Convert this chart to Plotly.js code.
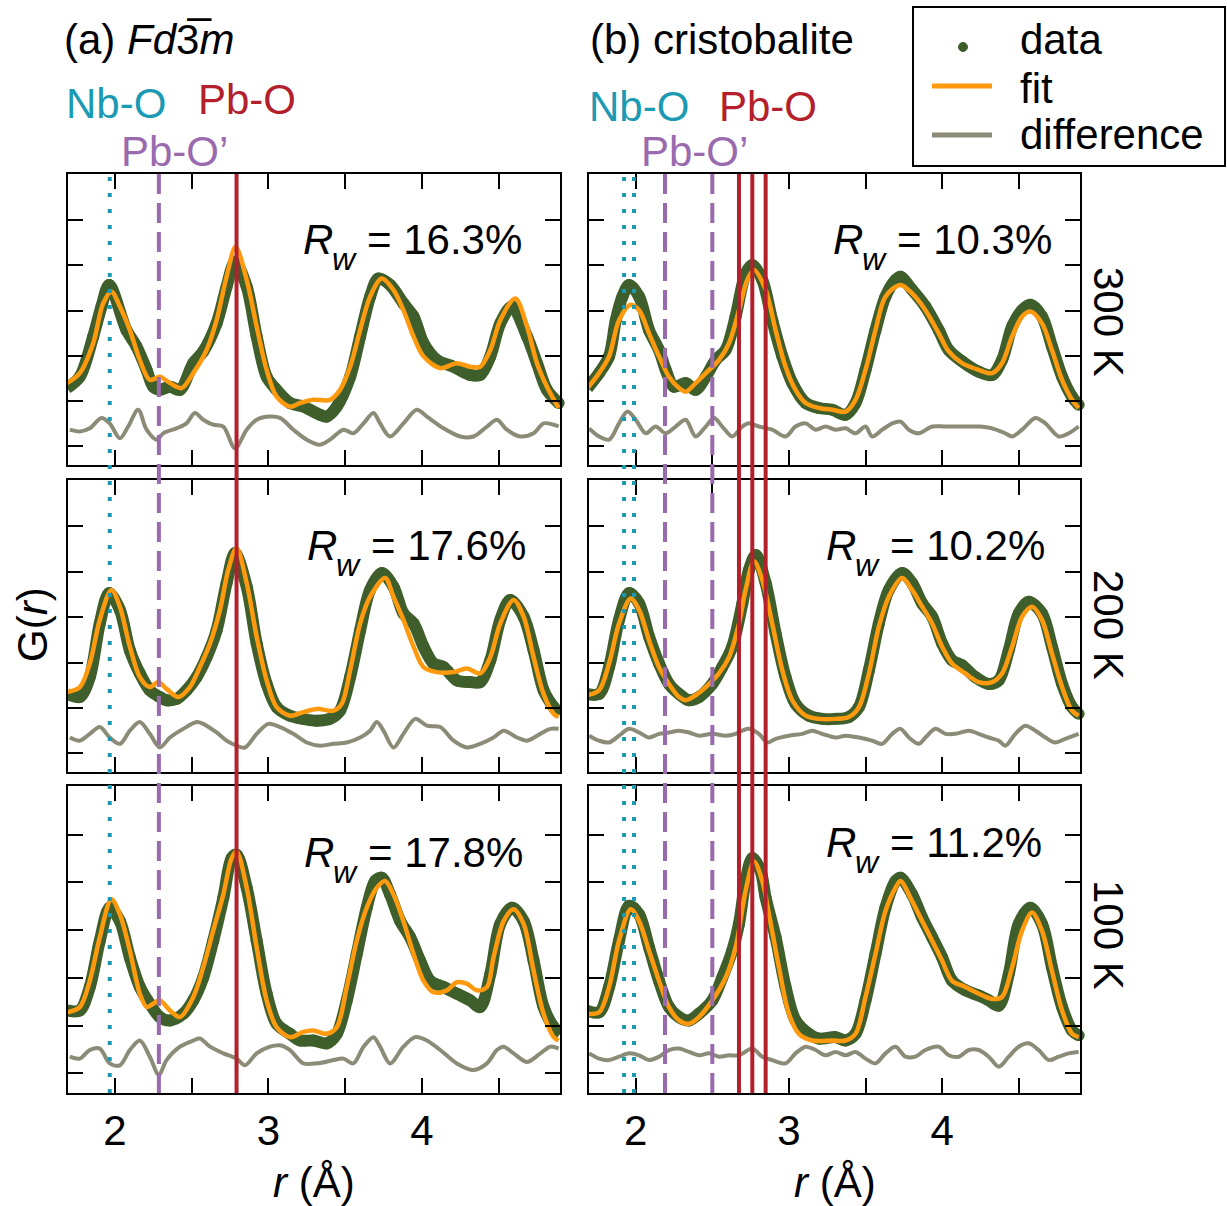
<!DOCTYPE html>
<html>
<head>
<meta charset="utf-8">
<script src="https://cdn.plot.ly/plotly-3.0.1.min.js"></script>
<style>html,body{margin:0;padding:0;background:#fff;}</style>
</head>
<body>
<div id="chart" style="width:1227px;height:1206px;"></div>
<script>
// ---------- PDF fits of Pb-Nb-O pyrochlore: (a) Fd-3m model, (b) cristobalite model ----------

// (a) Fd-3m, 300 K
const a300_data_r = [1.689,1.772,1.859,1.913,1.963,2.076,2.141,2.207,2.250,2.293,2.359,2.424,2.511,2.576,2.663,2.728,2.783,2.859,2.924,2.989,3.054,3.141,3.228,3.337,3.380,3.446,3.533,3.598,3.663,3.717,3.793,3.880,3.946,4.011,4.098,4.207,4.315,4.380,4.446,4.511,4.587,4.685,4.750,4.815,4.891];
const a300_data_G = [1.29,1.54,2.43,3.09,3.57,2.57,2.21,1.69,1.32,1.25,1.32,1.25,1.84,2.10,2.72,3.53,4.08,3.53,2.43,1.54,1.25,0.96,0.88,0.70,0.66,0.88,1.54,2.43,3.31,3.71,3.57,3.16,2.87,2.28,1.91,1.76,1.58,1.58,1.99,2.72,3.09,2.43,1.84,1.25,0.96];
const a300_fit_r = [1.689,1.772,1.859,1.924,1.978,2.033,2.098,2.163,2.228,2.293,2.359,2.435,2.511,2.598,2.663,2.728,2.787,2.859,2.924,2.989,3.054,3.141,3.207,3.293,3.402,3.467,3.533,3.598,3.663,3.739,3.815,3.880,3.946,4.011,4.120,4.228,4.315,4.380,4.446,4.511,4.609,4.685,4.750,4.815,4.891];
const a300_fit_G = [1.40,1.62,2.28,3.16,3.42,3.09,2.57,1.91,1.47,1.54,1.40,1.29,1.62,2.13,2.79,3.75,4.41,3.68,2.65,1.69,1.10,0.88,0.96,1.03,1.03,1.25,1.76,2.57,3.31,3.71,3.46,3.01,2.43,1.99,1.73,1.84,1.76,1.76,2.13,2.79,3.27,2.65,1.84,1.32,0.85];
const a300_diff_r = [1.707,1.772,1.837,1.913,1.967,2.033,2.087,2.152,2.207,2.272,2.315,2.402,2.467,2.522,2.576,2.641,2.707,2.783,2.859,2.924,3.011,3.076,3.163,3.250,3.337,3.402,3.489,3.554,3.620,3.685,3.728,3.793,3.880,3.967,4.033,4.141,4.250,4.337,4.424,4.489,4.554,4.641,4.728,4.793,4.859,4.891];
const a300_diff_G = [0.37,0.33,0.40,0.63,0.51,0.18,0.44,0.81,0.37,0.15,0.29,0.40,0.51,0.74,0.59,0.48,0.44,-0.04,0.37,0.59,0.66,0.63,0.37,0.15,0.04,0.15,0.37,0.29,0.51,0.74,0.51,0.22,0.51,0.81,0.66,0.40,0.22,0.22,0.44,0.59,0.37,0.22,0.29,0.51,0.48,0.44];

// (b) cristobalite, 300 K
const b300_data_r = [1.685,1.761,1.826,1.870,1.913,1.957,2.022,2.087,2.152,2.196,2.250,2.326,2.391,2.457,2.522,2.587,2.652,2.717,2.761,2.826,2.891,2.957,3.022,3.109,3.196,3.283,3.370,3.435,3.500,3.565,3.630,3.696,3.728,3.804,3.891,3.978,4.043,4.130,4.239,4.326,4.391,4.457,4.522,4.576,4.652,4.717,4.783,4.848,4.891];
const b300_data_G = [1.29,1.62,1.99,2.79,3.31,3.57,3.31,2.57,2.13,1.69,1.32,1.40,1.25,1.54,1.91,2.13,2.87,3.82,4.01,3.68,2.79,1.99,1.40,0.96,0.85,0.81,0.70,0.96,1.69,2.57,3.31,3.68,3.75,3.46,3.09,2.57,2.13,1.88,1.65,1.58,1.91,2.65,3.01,3.13,2.87,2.21,1.54,1.10,0.92];
const b300_fit_r = [1.685,1.761,1.826,1.891,1.967,2.022,2.087,2.152,2.217,2.283,2.326,2.391,2.457,2.543,2.609,2.674,2.728,2.772,2.848,2.913,2.978,3.043,3.109,3.196,3.283,3.370,3.435,3.500,3.565,3.630,3.728,3.804,3.891,3.978,4.043,4.130,4.239,4.326,4.391,4.457,4.522,4.576,4.652,4.717,4.783,4.848,4.891];
const b300_fit_G = [1.29,1.62,1.99,2.79,3.13,3.01,2.50,1.99,1.54,1.29,1.21,1.40,1.62,1.91,2.28,3.01,3.68,3.90,3.46,2.57,1.76,1.25,0.96,0.85,0.81,0.77,1.03,1.69,2.57,3.31,3.57,3.38,3.01,2.50,2.10,1.84,1.69,1.62,1.84,2.43,2.87,2.98,2.72,2.13,1.47,1.03,0.85];
const b300_diff_r = [1.696,1.761,1.826,1.891,1.946,2.000,2.065,2.130,2.196,2.261,2.326,2.391,2.457,2.511,2.565,2.630,2.696,2.739,2.804,2.891,2.978,3.043,3.109,3.174,3.239,3.304,3.370,3.435,3.500,3.543,3.609,3.674,3.728,3.783,3.848,3.935,4.022,4.130,4.239,4.326,4.413,4.457,4.522,4.609,4.674,4.761,4.826,4.891];
const b300_diff_G = [0.40,0.22,0.15,0.51,0.77,0.59,0.29,0.44,0.29,0.44,0.59,0.22,0.44,0.63,0.44,0.22,0.44,0.51,0.44,0.37,0.22,0.44,0.51,0.37,0.44,0.37,0.40,0.29,0.44,0.22,0.37,0.51,0.55,0.37,0.29,0.44,0.44,0.44,0.44,0.40,0.29,0.22,0.37,0.63,0.51,0.22,0.29,0.44];

// (a) Fd-3m, 200 K
const a200_data_r = [1.689,1.772,1.837,1.902,1.963,2.033,2.098,2.163,2.228,2.293,2.337,2.402,2.467,2.533,2.598,2.663,2.728,2.783,2.859,2.924,2.989,3.054,3.141,3.228,3.315,3.402,3.467,3.533,3.598,3.663,3.739,3.815,3.880,3.946,4.011,4.076,4.141,4.228,4.315,4.380,4.446,4.511,4.576,4.663,4.728,4.793,4.859,4.902];
const a200_data_G = [1.31,1.24,1.68,2.86,3.53,3.16,2.27,1.76,1.39,1.24,1.17,1.20,1.39,1.68,2.12,2.71,3.75,4.41,3.67,2.42,1.53,1.02,0.83,0.76,0.72,0.76,0.94,1.68,2.71,3.60,3.97,3.67,3.08,2.86,2.35,1.98,1.90,1.61,1.57,1.57,2.05,2.94,3.38,3.01,2.27,1.39,1.02,0.87];
const a200_fit_r = [1.689,1.772,1.837,1.902,1.978,2.033,2.098,2.163,2.228,2.283,2.337,2.413,2.489,2.554,2.620,2.685,2.739,2.793,2.859,2.924,2.989,3.054,3.141,3.228,3.315,3.424,3.478,3.533,3.598,3.663,3.761,3.815,3.880,3.946,4.011,4.098,4.207,4.293,4.380,4.446,4.511,4.598,4.663,4.728,4.793,4.859,4.891];
const a200_fit_G = [1.35,1.46,1.98,2.94,3.60,3.23,2.35,1.68,1.46,1.57,1.42,1.24,1.46,1.90,2.42,3.16,4.04,4.52,3.75,2.57,1.61,1.02,0.83,0.91,0.98,0.94,1.09,1.83,2.86,3.45,3.86,3.45,2.94,2.35,1.90,1.79,1.79,1.87,1.76,2.12,2.86,3.38,3.01,2.12,1.31,0.87,0.80];
const a200_diff_r = [1.707,1.772,1.837,1.902,1.967,2.033,2.098,2.163,2.228,2.293,2.359,2.446,2.533,2.576,2.663,2.728,2.793,2.848,2.924,3.000,3.076,3.163,3.250,3.337,3.424,3.511,3.598,3.663,3.707,3.750,3.815,3.880,3.957,4.033,4.120,4.207,4.293,4.380,4.467,4.533,4.620,4.685,4.772,4.837,4.891];
const a200_diff_G = [0.35,0.28,0.43,0.58,0.35,0.21,0.50,0.69,0.43,0.13,0.35,0.54,0.69,0.65,0.46,0.28,0.17,0.13,0.43,0.65,0.58,0.43,0.24,0.17,0.21,0.24,0.35,0.50,0.69,0.50,0.13,0.43,0.76,0.61,0.58,0.28,0.13,0.21,0.35,0.50,0.35,0.28,0.43,0.54,0.54];

// (b) cristobalite, 200 K
const b200_data_r = [1.678,1.761,1.826,1.891,1.957,2.022,2.087,2.152,2.217,2.283,2.348,2.413,2.500,2.565,2.630,2.696,2.739,2.783,2.848,2.913,2.978,3.043,3.130,3.217,3.304,3.391,3.457,3.522,3.587,3.652,3.739,3.804,3.870,3.935,4.000,4.065,4.130,4.217,4.304,4.370,4.435,4.500,4.565,4.652,4.717,4.783,4.848,4.891];
const b200_data_G = [1.31,1.31,1.90,2.94,3.53,3.30,2.57,1.98,1.53,1.31,1.17,1.24,1.53,1.90,2.35,3.30,4.04,4.37,3.75,2.64,1.68,1.09,0.83,0.76,0.76,0.80,1.02,1.83,2.86,3.60,3.97,3.75,3.30,3.01,2.42,2.05,1.94,1.68,1.53,1.61,2.27,3.08,3.34,3.08,2.35,1.53,1.02,0.87];
const b200_fit_r = [1.678,1.761,1.826,1.891,1.967,2.022,2.087,2.152,2.217,2.283,2.326,2.391,2.457,2.543,2.609,2.674,2.717,2.772,2.826,2.891,2.957,3.022,3.109,3.196,3.304,3.391,3.457,3.522,3.587,3.652,3.739,3.804,3.870,3.935,4.000,4.065,4.152,4.239,4.326,4.391,4.457,4.522,4.587,4.652,4.717,4.783,4.848,4.891];
const b200_fit_G = [1.28,1.39,1.98,2.86,3.41,3.16,2.49,1.90,1.53,1.24,1.17,1.28,1.46,1.76,2.12,2.86,3.60,4.23,3.82,2.86,1.83,1.17,0.83,0.76,0.76,0.80,1.02,1.76,2.79,3.45,3.86,3.60,3.23,2.86,2.35,1.98,1.76,1.57,1.57,1.76,2.35,3.01,3.23,2.94,2.20,1.46,0.94,0.83];
const b200_diff_r = [1.696,1.761,1.826,1.891,1.957,2.022,2.087,2.152,2.217,2.283,2.348,2.413,2.500,2.587,2.652,2.696,2.739,2.804,2.859,2.913,3.000,3.087,3.152,3.217,3.304,3.370,3.457,3.543,3.609,3.674,3.728,3.783,3.848,3.891,3.957,4.022,4.087,4.174,4.239,4.304,4.370,4.413,4.478,4.543,4.609,4.674,4.739,4.804,4.891];
const b200_diff_G = [0.39,0.28,0.24,0.39,0.54,0.46,0.35,0.43,0.46,0.50,0.46,0.39,0.43,0.39,0.43,0.50,0.54,0.43,0.24,0.32,0.39,0.43,0.50,0.43,0.35,0.39,0.35,0.28,0.21,0.43,0.54,0.35,0.21,0.35,0.54,0.43,0.43,0.50,0.43,0.35,0.28,0.17,0.43,0.61,0.50,0.35,0.24,0.32,0.43];

// (a) Fd-3m, 100 K
const a100_data_r = [1.689,1.772,1.837,1.902,1.967,2.033,2.098,2.163,2.228,2.293,2.359,2.446,2.511,2.576,2.641,2.707,2.761,2.793,2.859,2.924,2.989,3.054,3.141,3.207,3.293,3.380,3.446,3.511,3.576,3.641,3.696,3.739,3.793,3.859,3.924,3.989,4.054,4.141,4.228,4.315,4.380,4.446,4.511,4.587,4.663,4.728,4.793,4.859,4.902];
const a100_data_G = [1.32,1.32,1.81,2.78,3.47,3.19,2.43,1.81,1.46,1.18,1.11,1.25,1.53,2.01,2.78,3.68,4.51,4.58,3.89,2.78,1.67,1.04,0.83,0.69,0.69,0.63,0.83,1.53,2.50,3.47,4.03,4.10,3.75,3.19,2.85,2.36,1.94,1.81,1.67,1.53,1.39,2.08,3.13,3.47,3.19,2.36,1.39,0.97,0.83];
const a100_fit_r = [1.689,1.772,1.837,1.902,1.978,2.033,2.098,2.163,2.207,2.250,2.293,2.359,2.424,2.511,2.576,2.641,2.707,2.761,2.793,2.859,2.924,2.989,3.054,3.141,3.228,3.293,3.380,3.446,3.511,3.576,3.641,3.707,3.761,3.815,3.880,3.946,4.011,4.076,4.163,4.228,4.293,4.359,4.424,4.467,4.533,4.598,4.663,4.728,4.793,4.859,4.891];
const a100_fit_G = [1.28,1.39,1.94,2.85,3.65,3.33,2.57,1.67,1.39,1.46,1.53,1.32,1.18,1.60,2.22,2.99,3.75,4.51,4.65,3.89,2.64,1.53,0.97,0.76,0.87,0.90,0.83,0.97,1.81,2.78,3.47,3.89,4.03,3.75,3.19,2.50,1.94,1.70,1.74,1.91,1.88,1.74,1.81,2.43,3.19,3.44,3.13,2.15,1.25,0.76,0.69];
const a100_diff_r = [1.707,1.772,1.837,1.902,1.967,2.033,2.098,2.163,2.228,2.287,2.337,2.424,2.511,2.554,2.620,2.707,2.793,2.848,2.924,3.011,3.076,3.141,3.228,3.337,3.424,3.489,3.554,3.620,3.685,3.728,3.793,3.880,3.957,4.033,4.120,4.228,4.337,4.424,4.489,4.533,4.598,4.685,4.772,4.837,4.891];
const a100_diff_G = [0.35,0.31,0.49,0.52,0.21,0.17,0.49,0.69,0.35,-0.03,0.28,0.56,0.69,0.73,0.56,0.42,0.31,0.17,0.42,0.56,0.59,0.49,0.21,0.22,0.28,0.31,0.21,0.56,0.76,0.56,0.21,0.56,0.76,0.69,0.49,0.21,0.07,0.21,0.49,0.56,0.42,0.24,0.42,0.56,0.52];

// (b) cristobalite, 100 K
const b100_data_r = [1.678,1.761,1.826,1.891,1.957,2.022,2.087,2.152,2.217,2.283,2.348,2.413,2.500,2.565,2.630,2.674,2.717,2.761,2.815,2.848,2.913,2.978,3.043,3.130,3.196,3.304,3.370,3.435,3.500,3.565,3.630,3.696,3.728,3.804,3.870,3.935,4.000,4.065,4.152,4.239,4.304,4.370,4.435,4.500,4.576,4.652,4.717,4.783,4.848,4.891];
const b100_data_G = [1.32,1.28,1.81,2.78,3.51,3.33,2.64,1.94,1.39,1.18,1.11,1.25,1.53,2.01,2.57,3.13,4.03,4.51,4.24,3.68,2.85,1.81,1.11,0.83,0.73,0.76,0.69,0.83,1.53,2.50,3.47,4.03,4.10,3.75,3.26,2.85,2.43,1.94,1.74,1.63,1.53,1.42,2.08,3.13,3.47,3.13,2.22,1.39,0.90,0.80];
const b100_fit_r = [1.678,1.761,1.826,1.891,1.967,2.022,2.087,2.152,2.217,2.283,2.348,2.413,2.500,2.587,2.652,2.717,2.772,2.826,2.870,2.935,3.000,3.065,3.152,3.283,3.370,3.435,3.500,3.565,3.630,3.696,3.728,3.804,3.870,3.935,4.000,4.065,4.152,4.239,4.326,4.391,4.457,4.522,4.587,4.652,4.717,4.783,4.848,4.891];
const b100_fit_G = [1.25,1.28,1.81,2.78,3.44,3.19,2.57,1.94,1.39,1.11,1.04,1.18,1.53,2.01,2.64,3.82,4.44,4.03,3.33,2.22,1.25,0.83,0.69,0.69,0.69,0.83,1.60,2.50,3.40,3.89,4.03,3.61,3.19,2.78,2.36,1.94,1.81,1.67,1.56,1.60,2.22,2.99,3.37,2.99,2.15,1.32,0.83,0.76];
const b100_diff_r = [1.696,1.761,1.826,1.891,1.957,2.022,2.087,2.152,2.217,2.283,2.348,2.413,2.478,2.543,2.609,2.674,2.761,2.826,2.891,2.978,3.043,3.109,3.174,3.239,3.304,3.370,3.435,3.500,3.565,3.630,3.696,3.761,3.826,3.891,3.978,4.043,4.109,4.174,4.239,4.304,4.370,4.435,4.500,4.565,4.630,4.696,4.761,4.826,4.891];
const b100_diff_G = [0.42,0.31,0.28,0.35,0.42,0.38,0.28,0.35,0.49,0.52,0.45,0.38,0.42,0.35,0.38,0.38,0.52,0.35,0.28,0.21,0.42,0.56,0.49,0.38,0.45,0.38,0.45,0.31,0.21,0.42,0.56,0.35,0.35,0.49,0.56,0.38,0.35,0.49,0.49,0.35,0.14,0.35,0.56,0.63,0.49,0.28,0.35,0.42,0.45];

// Bond distances marked in each model (Å)
const nbO_a  = [1.967];
const pbOp_a = [2.287];
const pbO_a  = [2.793];
const nbO_b  = [1.924, 1.989];
const pbOp_b = [2.191, 2.500];
const pbO_b  = [2.674, 2.761, 2.848];

// Weighted residuals and temperatures
const rwFd    = [16.3, 17.6, 17.8];
const rwCrist = [10.3, 10.2, 11.2];
const temps   = ['300 K', '200 K', '100 K'];

// ---------- styling ----------
const FONT = 'Liberation Sans, Arial, Helvetica, sans-serif';
const FS = 42;
const C_DATA = '#3e5f2b';
const C_FIT = '#ff9a0e';
const C_DIFF = '#8b8b78';
const C_NB = '#1b9ab3';
const C_PBP = '#9a6aae';
const C_PB = '#b3202c';

const W = 1227, H = 1206;
const px = v => v / W;
const py = v => 1 - v / H;

// panel frames in pixels: [left, right], [top, bottom]
const colX = [[68, 560], [589, 1080]];
const rowY = [[174, 465], [480, 772], [786, 1093]];

const panels = [
  {ax: '',  row: 0, col: 0, r: [a300_data_r, a300_fit_r, a300_diff_r], g: [a300_data_G, a300_fit_G, a300_diff_G]},
  {ax: '2', row: 0, col: 1, r: [b300_data_r, b300_fit_r, b300_diff_r], g: [b300_data_G, b300_fit_G, b300_diff_G]},
  {ax: '3', row: 1, col: 0, r: [a200_data_r, a200_fit_r, a200_diff_r], g: [a200_data_G, a200_fit_G, a200_diff_G]},
  {ax: '4', row: 1, col: 1, r: [b200_data_r, b200_fit_r, b200_diff_r], g: [b200_data_G, b200_fit_G, b200_diff_G]},
  {ax: '5', row: 2, col: 0, r: [a100_data_r, a100_fit_r, a100_diff_r], g: [a100_data_G, a100_fit_G, a100_diff_G]},
  {ax: '6', row: 2, col: 1, r: [b100_data_r, b100_fit_r, b100_diff_r], g: [b100_data_G, b100_fit_G, b100_diff_G]}
];

const traces = [];
const layout = {
  width: W, height: H,
  margin: {l: 0, r: 0, t: 0, b: 0},
  paper_bgcolor: '#fff', plot_bgcolor: '#fff',
  font: {family: FONT, size: FS, color: '#000'},
  showlegend: false,
  shapes: [], annotations: []
};

const ann = (x, y, text, extra) => layout.annotations.push(Object.assign({
  xref: 'paper', yref: 'paper', x: px(x), y: py(y), xanchor: 'left', yanchor: 'middle',
  showarrow: false, text: text, font: {size: FS}}, extra || {}));

const tickStyle = {ticks: 'inside', ticklen: 15, tickwidth: 2, tickcolor: '#000'};

panels.forEach(p => {
  const xa = 'x' + p.ax, ya = 'y' + p.ax;
  const [r0, r1, r2] = p.r, [g0, g1, g2] = p.g;
  // difference curve
  traces.push({x: r2, y: g2, xaxis: xa, yaxis: ya, mode: 'lines', type: 'scatter',
    line: {color: C_DIFF, width: 4, shape: 'spline', smoothing: 0.9}, name: 'difference', hoverinfo: 'skip'});
  // data: thick band through the points plus the points themselves
  traces.push({x: r0, y: g0, xaxis: xa, yaxis: ya, mode: 'lines', type: 'scatter',
    line: {color: C_DATA, width: 12, shape: 'spline', smoothing: 0.9}, name: 'data', hoverinfo: 'skip'});
  traces.push({x: r0, y: g0, xaxis: xa, yaxis: ya, mode: 'markers', type: 'scatter', cliponaxis: false,
    marker: {color: C_DATA, size: 12}, name: 'data'});
  // fit curve
  traces.push({x: r1, y: g1, xaxis: xa, yaxis: ya, mode: 'lines', type: 'scatter',
    line: {color: C_FIT, width: 4.5, shape: 'spline', smoothing: 0.9}, name: 'fit'});

  const bottom = p.row === 2;
  layout['xaxis' + p.ax] = Object.assign({
    domain: [px(colX[p.col][0]), px(colX[p.col][1])],
    anchor: ya, range: [1.695, 4.90],
    showline: true, linecolor: '#000', linewidth: 2, mirror: 'ticks',
    tickmode: 'linear', tick0: 2, dtick: 1,
    minor: Object.assign({dtick: 0.5, tick0: 2}, tickStyle),
    showticklabels: bottom, tickfont: {size: FS},
    showgrid: false, zeroline: false, fixedrange: true
  }, tickStyle);
  layout['yaxis' + p.ax] = Object.assign({
    domain: [py(rowY[p.row][1]), py(rowY[p.row][0])],
    anchor: xa, range: [-0.41, 6.02],
    showline: true, linecolor: '#000', linewidth: 2, mirror: 'ticks',
    tickmode: 'linear', tick0: 0, dtick: 1,
    showticklabels: false, showgrid: false, zeroline: false, fixedrange: true
  }, tickStyle);

  // R_w label: italic R, lowered italic w, then the value
  const rw = p.col === 0 ? rwFd[p.row] : rwCrist[p.row];
  const rwX = p.col === 0 ? [302, 306, 303][p.row] : [832, 825, 825][p.row];
  const rwY = p.col === 0 ? [239, 545, 852][p.row] : [239, 545, 842][p.row];
  ann(rwX, rwY, '<i>R</i>', {borderpad: 0});
  ann(rwX + 29, rwY + 20, '<i>w</i>', {font: {size: 32}, borderpad: 0});
  ann(rwX + 64, rwY, '= ' + rw.toFixed(1) + '%', {borderpad: 0});
});

// bond-distance markers spanning each column of panels
function vlines(vals, col, color, dash) {
  const xa = col === 0 ? 'x5' : 'x6';
  vals.forEach(v => layout.shapes.push({type: 'line', xref: xa, yref: 'paper',
    x0: v, x1: v, y0: py(rowY[2][1]), y1: py(rowY[0][0]), layer: 'above',
    line: {color: color, width: 4, dash: dash}}));
}
vlines(nbO_a, 0, C_NB, '4px,12px');
vlines(pbOp_a, 0, C_PBP, '20px,9px');
vlines(pbO_a, 0, C_PB, 'solid');
vlines(nbO_b, 1, C_NB, '4px,12px');
vlines(pbOp_b, 1, C_PBP, '20px,9px');
vlines(pbO_b, 1, C_PB, 'solid');

// panel headings and bond labels
ann(62, 40, '(a) <i>Fd</i>3\u0305<i>m</i>');
ann(588, 40, '(b) cristobalite');
ann(64, 103, 'Nb-O', {font: {size: FS, color: C_NB}});
ann(196, 100, 'Pb-O', {font: {size: FS, color: C_PB}});
ann(119, 152, 'Pb-O\u2019', {font: {size: FS, color: C_PBP}});
ann(587, 106, 'Nb-O', {font: {size: FS, color: C_NB}});
ann(717, 106, 'Pb-O', {font: {size: FS, color: C_PB}});
ann(639, 152, 'Pb-O\u2019', {font: {size: FS, color: C_PBP}});

// temperatures on the right
temps.forEach((t, i) => ann(1109, [322, 625, 935][i], t, {xanchor: 'center', textangle: 90}));

// axis titles
ann(32, 625, 'G(<i>r</i>)', {xanchor: 'center', textangle: -90});
ann(314, 1182, '<i>r</i> (\u00c5)', {xanchor: 'center'});
ann(835, 1182, '<i>r</i> (\u00c5)', {xanchor: 'center'});

// legend box
layout.shapes.push({type: 'rect', xref: 'paper', yref: 'paper', x0: px(913), x1: px(1225),
  y0: py(166), y1: py(7), line: {color: '#000', width: 2}, fillcolor: '#fff', layer: 'above'});
layout.shapes.push({type: 'circle', xref: 'paper', yref: 'paper', x0: px(958.5), x1: px(967.5),
  y0: py(51.5), y1: py(42.5), line: {color: C_DATA, width: 1}, fillcolor: C_DATA, layer: 'above'});
layout.shapes.push({type: 'line', xref: 'paper', yref: 'paper', x0: px(932), x1: px(992),
  y0: py(86), y1: py(86), line: {color: C_FIT, width: 5}, layer: 'above'});
layout.shapes.push({type: 'line', xref: 'paper', yref: 'paper', x0: px(932), x1: px(992),
  y0: py(135), y1: py(135), line: {color: C_DIFF, width: 5}, layer: 'above'});
ann(1018, 40, 'data');
ann(1018, 88, 'fit');
ann(1018, 134, 'difference');

Plotly.newPlot('chart', traces, layout, {displayModeBar: false, staticPlot: true});
</script>
</body>
</html>
